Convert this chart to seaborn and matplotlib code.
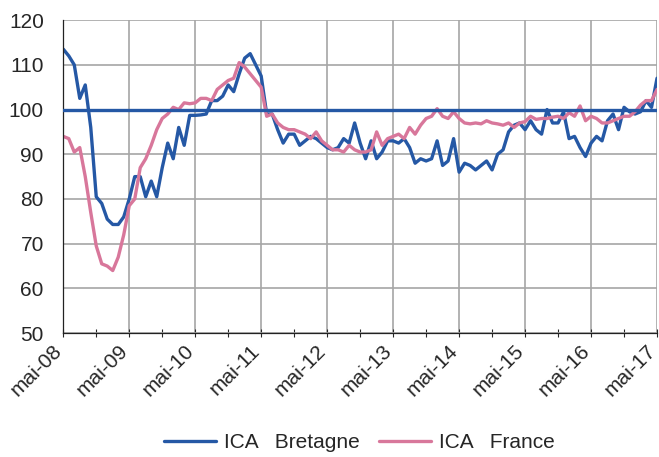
import pandas as pd
import numpy as np
import matplotlib
matplotlib.use('Agg')
import matplotlib.pyplot as plt
import matplotlib.transforms as mtrans
import seaborn as sns

# Monthly index values, mai-08 to mai-17 (base 100)
bretagne = [113.5, 112, 110, 102.5, 105.5, 96, 80.5, 79, 75.5, 74.3, 74.3, 76,
            80, 85, 85, 80.5, 84, 80.5, 87, 92.5, 89, 96, 92, 98.7,
            98.7, 98.8, 99, 102, 102, 103, 105.5, 104, 108, 111.5, 112.5, 110,
            107.5, 99, 99, 95.5, 92.5, 94.5, 94.5, 92, 93, 94, 93.5, 92.5,
            91.5, 91, 91.5, 93.5, 92.5, 97, 92.5, 89, 93, 89, 90.5, 93,
            93, 92.5, 93.5, 91.5, 88, 89, 88.5, 89, 93, 87.5, 88.5, 93.5,
            86, 88, 87.5, 86.5, 87.5, 88.5, 86.5, 90, 91, 95, 96.5, 97,
            95.5, 97.5, 95.5, 94.5, 100, 97, 97, 99.5, 93.5, 94, 91.5, 89.5,
            92.5, 94, 93, 97.5, 99, 95.5, 100.5, 99.5, 99, 99.5, 102, 100.5,
            107]
france = [94, 93.5, 90.5, 91.5, 85, 77, 69.5, 65.5, 65, 64, 67, 72,
          78.5, 80, 87, 89, 92, 95.5, 98, 99, 100.5, 100, 101.5, 101.3,
          101.5, 102.5, 102.5, 102, 104.5, 105.5, 106.5, 107, 110.5, 109.5, 108, 106.5,
          105, 98.5, 99, 97, 96, 95.5, 95.5, 95, 94.5, 93.5, 95, 93,
          92, 91, 91, 90.5, 92, 91, 90.5, 90.5, 91, 95, 92, 93.5,
          94, 94.5, 93.5, 96, 94.5, 96.5, 98, 98.5, 100.2, 98.5, 98, 99.5,
          98, 97, 96.8, 97, 96.8, 97.5, 97, 96.8, 96.5, 97, 96, 97,
          97.3, 98.5, 97.8, 98, 98, 98.3, 98.5, 98, 99.3, 98.5, 100.8, 97.5,
          98.5, 98, 97, 97, 97.5, 98, 98.5, 98.5, 99.5, 101, 102, 102,
          104.5]
tick_labels = ['mai-08', 'mai-09', 'mai-10', 'mai-11', 'mai-12',
               'mai-13', 'mai-14', 'mai-15', 'mai-16', 'mai-17']

months = np.arange(len(bretagne))
df = pd.DataFrame({'mois': np.concatenate([months, months]),
                   'ICA': bretagne + france,
                   'serie': ['ICA   Bretagne'] * len(bretagne) + ['ICA   France'] * len(france)})

sns.set_style('white')
plt.rcParams['font.family'] = ['Liberation Sans', 'DejaVu Sans']

fig, ax = plt.subplots(figsize=(6.59, 4.57), dpi=100)
fig.subplots_adjust(left=0.096, right=0.997, top=0.956, bottom=0.271)

sns.lineplot(data=df, x='mois', y='ICA', hue='serie',
             palette=['#2558A5', '#D8779B'], linewidth=2.4, ax=ax)
ax.axhline(100, color='#2558A5', linewidth=2.4, zorder=3)

ax.set_xlim(0, 108)
ax.set_ylim(50, 120)
ax.set_yticks(range(50, 121, 10))
ax.set_xticks(np.arange(0, 109, 12))
ax.set_xticks(np.arange(6, 109, 12), minor=True)
ax.set_xticklabels(tick_labels, rotation=45, ha='right', rotation_mode='anchor')
ax.grid(True, color='#A6A6A6', linewidth=1.2)
ax.tick_params(axis='x', which='both', direction='inout', length=6, width=0.8,
               bottom=True, labelsize=15, pad=3)
ax.tick_params(axis='y', labelsize=15, length=0, pad=14)
# nudge the rotated labels left so the last one stays inside the figure
shift = mtrans.ScaledTranslation(-11 / 100, 0, fig.dpi_scale_trans)
for lab in ax.get_xticklabels():
    lab.set_transform(lab.get_transform() + shift)
for side in ['top', 'right']:
    ax.spines[side].set_visible(False)
for side in ['left', 'bottom']:
    ax.spines[side].set_color('#222222')
    ax.spines[side].set_linewidth(0.9)
ax.set_xlabel('')
ax.set_ylabel('')

ax.legend(loc='lower center', bbox_to_anchor=(0.545, -0.03), bbox_transform=fig.transFigure,
          ncol=2, frameon=False, fontsize=15, handlelength=2.5,
          columnspacing=0.9, handletextpad=0.4)

fig.savefig('out.png', dpi=100)
